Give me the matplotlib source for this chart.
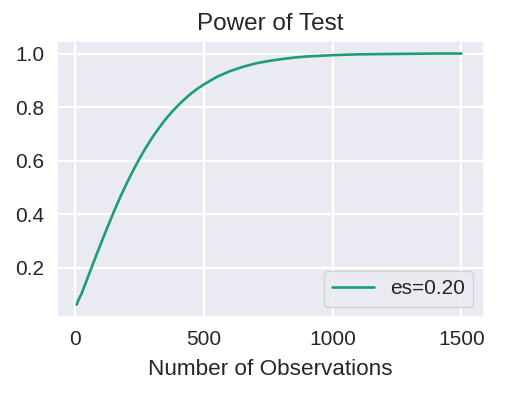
import matplotlib
matplotlib.use("Agg")
import matplotlib.pyplot as plt
import seaborn as sns

# datos ---------------------------
nobs = [5, 10, 25, 50, 75, 100, 125, 150, 175, 200, 225, 250, 275, 300, 325,
        350, 375, 400, 425, 450, 475, 500, 550, 600, 650, 700, 750, 800, 850,
        900, 1000, 1100, 1200, 1300, 1400, 1500]
power = [0.062, 0.075, 0.105, 0.168, 0.231, 0.292, 0.352, 0.410, 0.465, 0.516,
         0.564, 0.609, 0.650, 0.688, 0.722, 0.754, 0.782, 0.807, 0.830, 0.851,
         0.869, 0.885, 0.913, 0.934, 0.950, 0.963, 0.972, 0.979, 0.985, 0.989,
         0.994, 0.997, 0.998, 0.999, 1.0, 1.0]
etiqueta = "es=0.20"
x_ticks = [0, 500, 1000, 1500]

sns.set_theme(style="darkgrid", font_scale=1.27)
plt.rcParams['font.family'] = ['Liberation Sans', 'DejaVu Sans']

fig, ax = plt.subplots(figsize=(5.12, 3.94), dpi=100)
ax.plot(nobs, power, color='#1b9e77', lw=1.9, label=etiqueta)
ax.set_xlim(-70, 1587)
ax.set_xticks(x_ticks)
ax.grid(lw=1.6)
ax.tick_params(labelsize=15)
ax.set_title('Power of Test', fontsize=17.5, pad=8)
ax.set_xlabel('Number of Observations', fontsize=16.2, labelpad=7)
ax.legend(loc='lower right', fontsize=15)
fig.subplots_adjust(left=0.112, right=0.945, top=0.896, bottom=0.195)
fig.savefig('out.png', dpi=100)
